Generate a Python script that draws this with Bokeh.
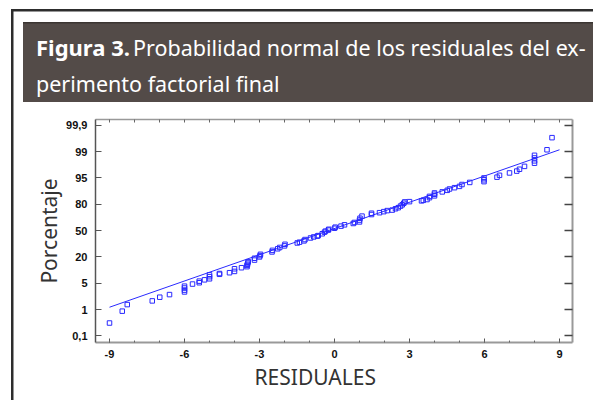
from bokeh.plotting import figure
from bokeh.models import LinearAxis, FixedTicker, Range1d, Title, CustomLabelingPolicy, Div
from bokeh.layouts import column
from bokeh.embed import file_html
from bokeh.resources import INLINE

# ---- data ----
residuals = [-9.0, -8.49, -8.29, -7.29, -6.99, -6.6, -6.0, -6.0, -6.0, -6.0,
             -5.68, -5.41, -5.41, -5.2, -5.0, -5.0, -5.0, -4.6, -4.6, -4.2,
             -4.0, -4.0, -3.72, -3.5, -3.5, -3.48, -3.47, -3.45, -3.2, -3.2,
             -3.0, -2.98, -2.96, -2.5, -2.48, -2.27, -2.19, -2.0, -1.98, -1.49,
             -1.4, -1.22, -1.18, -0.96, -0.83, -0.69, -0.65, -0.49, -0.4, -0.36,
             -0.25, -0.23, 0.0, 0.03, 0.26, 0.4, 0.75, 0.8, 1.0, 1.0,
             1.02, 1.1, 1.48, 1.48, 1.8, 1.97, 2.11, 2.31, 2.44, 2.55,
             2.64, 2.71, 2.77, 2.81, 3.0, 3.48, 3.55, 3.7, 3.8, 3.8,
             4.0, 4.0, 4.0, 4.31, 4.51, 4.6, 4.8, 5.0, 5.1, 5.41,
             5.98, 5.98, 5.98, 6.5, 6.6, 7.0, 7.29, 7.4, 7.6, 8.0,
             8.0, 8.0, 8.0, 8.5, 8.7]
# position on the normal-probability scale (0 = 0,1 % ... 8 = 99,9 %)
prob_pos = [0.49, 0.94, 1.19, 1.33, 1.47, 1.57, 1.67, 1.74, 1.82, 1.89,
            1.97, 2.02, 2.08, 2.13, 2.17, 2.25, 2.32, 2.34, 2.37, 2.40,
            2.45, 2.55, 2.59, 2.63, 2.68, 2.72, 2.77, 2.82, 2.88, 2.95,
            3.0, 3.05, 3.1, 3.19, 3.25, 3.31, 3.36, 3.42, 3.48, 3.53,
            3.56, 3.61, 3.66, 3.72, 3.76, 3.79, 3.81, 3.88, 3.94, 3.98,
            4.02, 4.05, 4.09, 4.13, 4.17, 4.22, 4.27, 4.31, 4.33, 4.40,
            4.47, 4.55, 4.61, 4.66, 4.68, 4.72, 4.76, 4.78, 4.83, 4.87,
            4.93, 4.98, 5.04, 5.09, 5.1, 5.13, 5.15, 5.18, 5.25, 5.3,
            5.32, 5.38, 5.43, 5.47, 5.53, 5.58, 5.63, 5.68, 5.75, 5.83,
            5.86, 5.93, 6.0, 6.03, 6.1, 6.19, 6.26, 6.33, 6.44, 6.56,
            6.65, 6.76, 6.86, 7.07, 7.53]
fit_x = [-9.0, 9.0]
fit_pos = [1.09, 7.07]

y_tick_pos = [0, 1, 2, 3, 4, 5, 6, 7, 8]
y_tick_labels = ["0,1", "1", "5", "20", "50", "80", "95", "99", "99,9"]
x_major = [-9, -6, -3, 0, 3, 6, 9]
x_major_labels = ["-9", "-6", "-3", "0", "3", "6", "9"]
x_minor = [-9, -8, -7, -6, -5, -4, -3, -2, -1, 0, 1, 2, 3, 4, 5, 6, 7, 8, 9]

title_bold = "Figura 3."
title_rest = "Probabilidad normal de los residuales del ex-"
title_line2 = "perimento factorial final"
x_title = "RESIDUALES"
y_title = "Porcentaje"

frame_col = "#2d2d2d"
header_col = "#534b48"
blue = "#2a2aff"
lab_font = "Liberation Sans"
tf = "Noto Sans"

W = 593
HEAD_H = 111
CHART_H = 289

# ---- header (HTML text on a CSS-painted box) ----
head_bg = (
    f"linear-gradient({frame_col},{frame_col}) 11px 9px / 582px 2.5px no-repeat, "
    f"linear-gradient({frame_col},{frame_col}) 11px 9px / 2.5px 102px no-repeat, "
    f"linear-gradient(#3b3532,#3b3532) 23px 22px / 570px 1.5px no-repeat, "
    f"linear-gradient({header_col},{header_col}) 23px 22px / 570px 80px no-repeat, "
    "#ffffff"
)
head_html = (
    f'<div style="font-family:\'{tf}\';color:#ffffff;line-height:32px;'
    f'padding:31px 0 0 36px;margin:0;white-space:nowrap;">'
    f'<span style="font-weight:bold;font-size:22px;">{title_bold}</span> '
    f'<span style="font-size:21.5px;">{title_rest}</span><br>'
    f'<span style="font-size:21.5px;">{title_line2}</span></div>'
)
head = Div(text=head_html, width=W, height=HEAD_H, margin=0,
           styles={"background": head_bg, "overflow": "hidden"})

# ---- chart ----
p = figure(width=W, height=CHART_H, output_backend="svg", toolbar_location=None,
           x_range=Range1d(-9.56, 9.52), y_range=Range1d(-0.25, 8.22),
           min_border_left=95, min_border_right=21, min_border_top=8,
           min_border_bottom=58, x_axis_location=None, y_axis_location=None,
           margin=0,
           styles={"background": f"linear-gradient({frame_col},{frame_col}) 11px 0 / 2.5px 100% no-repeat, #ffffff"})
p.grid.visible = False
p.outline_line_color = None
p.border_fill_alpha = 0
p.background_fill_color = "#ffffff"


def hide():
    return CustomLabelingPolicy(code="for (const i of indices) { indices.unset(i) }\nreturn indices")


left = LinearAxis(ticker=FixedTicker(ticks=y_tick_pos),
                  major_label_overrides={t: l for t, l in zip(y_tick_pos, y_tick_labels)},
                  major_tick_in=6, major_tick_out=0, minor_tick_in=0, minor_tick_out=0,
                  axis_line_color="#555555", axis_line_width=1.5,
                  major_tick_line_color="#555555", major_label_standoff=8,
                  major_label_text_font=lab_font, major_label_text_font_style="bold",
                  major_label_text_font_size="11px", major_label_text_color="#111111")
p.add_layout(left, "left")

right = LinearAxis(ticker=FixedTicker(ticks=y_tick_pos),
                   major_tick_in=8, major_tick_out=0, minor_tick_in=0, minor_tick_out=0,
                   axis_line_color="#999999", axis_line_width=2,
                   major_tick_line_color="#444444", major_tick_line_width=1.5,
                   major_label_standoff=0, major_label_text_font_size="1px",
                   major_label_policy=hide())
p.add_layout(right, "right")

top = LinearAxis(ticker=FixedTicker(ticks=x_minor),
                 major_tick_in=3, major_tick_out=0, minor_tick_in=0, minor_tick_out=0,
                 axis_line_color="#999999", axis_line_width=1.5,
                 major_tick_line_color="#666666",
                 major_label_standoff=0, major_label_text_font_size="1px",
                 major_label_policy=hide())
p.add_layout(top, "above")

bottom = LinearAxis(ticker=FixedTicker(ticks=x_major, minor_ticks=x_minor),
                    major_label_overrides={t: l for t, l in zip(x_major, x_major_labels)},
                    major_tick_in=4, major_tick_out=0, minor_tick_in=2, minor_tick_out=0,
                    axis_line_color="#999999", axis_line_width=2,
                    major_tick_line_color="#555555", minor_tick_line_color="#666666",
                    major_label_standoff=7,
                    major_label_text_font=lab_font, major_label_text_font_style="bold",
                    major_label_text_font_size="11px", major_label_text_color="#111111")
p.add_layout(bottom, "below")

p.add_layout(Title(text=x_title, align="left", offset=159, standoff=0,
                   text_line_height=0.75,
                   text_font=tf, text_font_size="21px", text_font_style="normal",
                   text_color="#333333"), "below")
p.add_layout(Title(text=y_title, align="center", standoff=2,
                   text_font=tf, text_font_size="21px", text_font_style="normal",
                   text_color="#333333"), "left")

p.line(fit_x, fit_pos, line_color=blue, line_width=1)
p.scatter(residuals, prob_pos, marker="square", size=4.5, fill_color=None,
          line_color=blue, line_width=1)

layout = column(head, p, spacing=0)
open("out.html", "w").write(file_html(layout, INLINE))
